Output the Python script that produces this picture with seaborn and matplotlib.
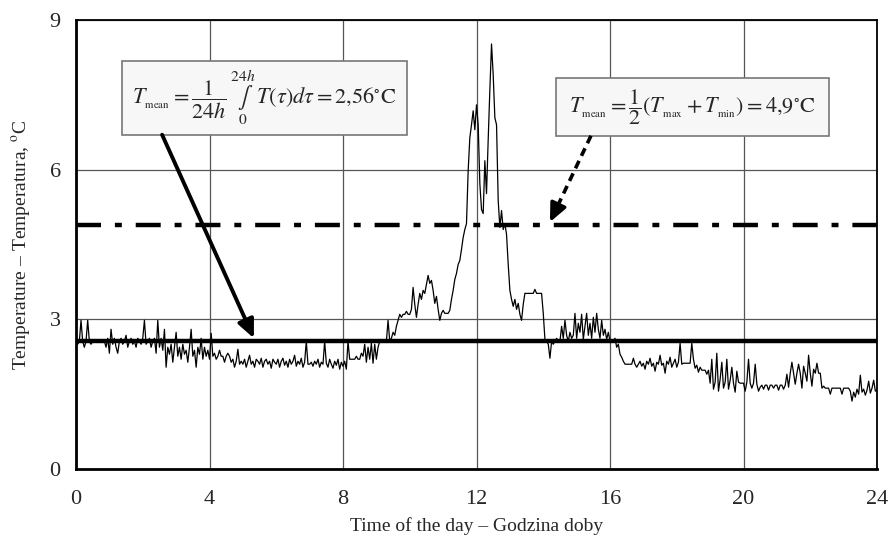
import numpy as np
import pandas as pd
import matplotlib
matplotlib.use('Agg')
import matplotlib.pyplot as plt
import seaborn as sns
from matplotlib.patches import Rectangle

# temperature readings every 3 minutes (0.05 h), one row per hour
temps = [
    2.56, 2.50, 2.56, 2.98, 2.56, 2.44, 2.56, 2.98, 2.56, 2.50, 2.56, 2.56, 2.56, 2.56, 2.56, 2.56, 2.56, 2.56, 2.44, 2.62,
    2.32, 2.80, 2.50, 2.62, 2.44, 2.32, 2.56, 2.62, 2.50, 2.56, 2.68, 2.44, 2.56, 2.62, 2.50, 2.56, 2.44, 2.62, 2.56, 2.50,
    2.62, 2.98, 2.50, 2.56, 2.62, 2.44, 2.56, 2.62, 2.32, 2.98, 2.44, 2.62, 2.38, 2.80, 2.04, 2.44, 2.30, 2.50, 2.14, 2.44,
    2.74, 2.26, 2.44, 2.20, 2.50, 2.30, 2.38, 2.14, 2.44, 2.80, 2.26, 2.38, 2.04, 2.44, 2.30, 2.62, 2.20, 2.44, 2.26, 2.38,
    2.20, 2.72, 2.26, 2.32, 2.20, 2.26, 2.38, 2.26, 2.26, 2.14, 2.26, 2.32, 2.26, 2.14, 2.20, 2.04, 2.16, 2.40, 2.10, 2.16,
    2.10, 2.20, 2.04, 2.16, 2.28, 2.10, 2.16, 2.04, 2.20, 2.16, 2.10, 2.22, 2.04, 2.16, 2.20, 2.10, 2.16, 2.02, 2.20, 2.14,
    2.10, 2.20, 2.04, 2.16, 2.22, 2.08, 2.16, 2.04, 2.20, 2.10, 2.16, 2.28, 2.06, 2.16, 2.10, 2.22, 2.04, 2.14, 2.56, 2.10,
    2.10, 2.14, 2.06, 2.16, 2.10, 2.20, 2.04, 2.14, 2.10, 2.56, 2.12, 2.04, 2.20, 2.10, 2.02, 2.16, 2.08, 2.20, 2.00, 2.14,
    2.06, 2.16, 2.00, 2.56, 2.20, 2.20, 2.20, 2.20, 2.26, 2.20, 2.20, 2.32, 2.26, 2.50, 2.14, 2.44, 2.20, 2.52, 2.12, 2.50,
    2.20, 2.44, 2.56, 2.56, 2.56, 2.56, 2.56, 2.98, 2.56, 2.62, 2.74, 2.68, 2.86, 2.98, 3.10, 3.04, 3.10, 3.10, 3.16, 3.10,
    3.10, 3.20, 3.64, 3.30, 3.04, 3.30, 3.52, 3.40, 3.58, 3.52, 3.70, 3.88, 3.72, 3.78, 3.58, 3.32, 3.46, 3.20, 2.98, 3.12,
    3.18, 3.12, 3.12, 3.12, 3.18, 3.40, 3.58, 3.80, 3.92, 4.10, 4.18, 4.40, 4.64, 4.80, 4.92, 5.98, 6.64, 6.90, 7.18, 6.80,
    7.30, 6.90, 5.72, 5.20, 5.12, 6.18, 5.52, 6.60, 7.60, 8.52, 7.90, 7.04, 6.90, 5.38, 4.84, 5.18, 4.80, 4.92, 4.70, 4.10,
    3.58, 3.40, 3.26, 3.40, 3.20, 3.32, 3.10, 2.98, 3.30, 3.52, 3.52, 3.52, 3.52, 3.52, 3.52, 3.60, 3.52, 3.52, 3.52, 3.52,
    3.12, 2.60, 2.56, 2.50, 2.22, 2.56, 2.50, 2.56, 2.62, 2.56, 2.56, 2.86, 2.62, 2.98, 2.68, 2.56, 2.74, 2.62, 2.68, 3.12,
    2.62, 2.92, 2.74, 3.10, 2.60, 2.86, 3.12, 2.68, 2.92, 2.62, 3.04, 2.74, 3.12, 2.80, 2.62, 2.98, 2.68, 2.80, 2.60, 2.74,
    2.56, 2.56, 2.56, 2.62, 2.44, 2.50, 2.30, 2.24, 2.16, 2.10, 2.10, 2.10, 2.10, 2.10, 2.22, 2.10, 2.04, 2.10, 2.16, 2.06,
    2.12, 2.00, 2.16, 2.10, 2.22, 2.06, 2.12, 1.96, 2.14, 2.10, 2.28, 2.08, 2.12, 1.92, 2.16, 2.10, 2.24, 2.04, 2.12, 2.20,
    2.04, 2.14, 2.52, 2.10, 2.12, 2.12, 2.12, 2.12, 2.12, 2.52, 2.20, 2.02, 2.08, 1.94, 2.04, 1.98, 1.98, 1.98, 1.90, 1.98,
    1.72, 2.20, 1.60, 1.74, 2.32, 1.56, 1.80, 2.14, 1.62, 1.74, 2.20, 1.60, 1.78, 2.04, 1.72, 1.54, 1.96, 1.74, 1.72, 1.72,
    1.72, 1.56, 1.74, 2.20, 1.72, 1.62, 1.72, 2.10, 1.70, 1.56, 1.64, 1.68, 1.60, 1.68, 1.68, 1.58, 1.68, 1.68, 1.62, 1.68,
    1.68, 1.58, 1.68, 1.68, 1.60, 1.68, 1.90, 1.64, 1.92, 2.14, 1.92, 1.70, 1.92, 2.10, 1.92, 1.62, 2.06, 1.92, 1.76, 2.28,
    1.92, 1.66, 2.00, 1.92, 2.12, 1.92, 1.92, 1.62, 1.66, 1.62, 1.62, 1.62, 1.50, 1.62, 1.62, 1.62, 1.62, 1.62, 1.62, 1.50,
    1.62, 1.62, 1.62, 1.62, 1.56, 1.36, 1.54, 1.44, 1.60, 1.50, 1.88, 1.54, 1.60, 1.48, 1.58, 1.76, 1.52, 1.62, 1.78, 1.56,
    1.58,
]
step_h = 0.05
t_mean_integral = 2.56
t_mean_minmax = 4.9

x_ticks = [0, 4, 8, 12, 16, 20, 24]
y_ticks = [0, 3, 6, 9]

df = pd.DataFrame({'hour': np.arange(len(temps)) * step_h, 'temp': temps})

sns.set_style('white')
plt.rcParams['font.family'] = ['Liberation Serif', 'DejaVu Serif']
plt.rcParams['mathtext.fontset'] = 'stix'
plt.rcParams['lines.scale_dashes'] = False

fig = plt.figure(figsize=(8.91, 5.38), dpi=100)
ax = fig.add_axes([0.0853, 0.1283, 0.899, 0.8345])

sns.lineplot(data=df, x='hour', y='temp', color='black', lw=0.9, ax=ax, zorder=3)

# the two mean levels
ax.axhline(t_mean_integral, color='black', lw=3.2, zorder=4)
ax.axhline(t_mean_minmax, color='black', lw=3.2, zorder=4, dashes=(18, 10, 5, 10))

ax.set_xlim(0, 24)
ax.set_ylim(0, 9)
ax.set_xticks(x_ticks)
ax.set_yticks(y_ticks)
ax.grid(True, color='#555555', lw=0.9, zorder=0)
ax.set_axisbelow(True)
for s in ax.spines.values():
    s.set_color('black')
    s.set_linewidth(1.3)
ax.spines['left'].set_linewidth(2)
ax.spines['bottom'].set_linewidth(2)
ax.tick_params(direction='out', length=5, width=1.2, color='black', labelsize=16, pad=6)
ax.tick_params(axis='x', pad=10)

ax.set_xlabel('Time of the day – Godzina doby', fontsize=14, labelpad=6)
ax.set_ylabel(r'Temperature – Temperatura, $^{\mathrm{o}}$C', fontsize=14, labelpad=12)

# formula boxes
ax.add_patch(Rectangle((1.38, 6.70), 8.54, 1.48, facecolor='#f7f7f7', edgecolor='#777777', lw=1.2, zorder=5))
ax.text(5.65, 7.44,
        r'$T_{_{\mathrm{mean}}} = \dfrac{1}{24h}\,\underset{0}{\overset{24h}{\int}}\, T(\tau)d\tau = 2{,}56^{\circ}\mathrm{C}$',
        ha='center', va='center', fontsize=16, zorder=6)
ax.add_patch(Rectangle((14.38, 6.68), 8.18, 1.16, facecolor='#f7f7f7', edgecolor='#777777', lw=1.2, zorder=5))
ax.text(18.47, 7.26,
        r'$T_{_{\mathrm{mean}}} = \dfrac{1}{2}(T_{_{\mathrm{max}}} + T_{_{\mathrm{min}}}) = 4{,}9^{\circ}\mathrm{C}$',
        ha='center', va='center', fontsize=16, zorder=6)

# arrows from the boxes to the lines
ax.annotate('', xy=(5.33, 2.62), xytext=(2.58, 6.70),
            arrowprops=dict(arrowstyle='-|>,head_length=1.1,head_width=0.5', color='black', lw=2.8,
                            shrinkA=0, shrinkB=0), zorder=6)
ax.plot([15.43, 14.45], [6.68, 5.3], color='black', lw=2.6, dashes=(6, 4), zorder=6)
ax.annotate('', xy=(14.2, 4.95), xytext=(14.45, 5.3),
            arrowprops=dict(arrowstyle='-|>,head_length=1.1,head_width=0.5', color='black', lw=2.6,
                            shrinkA=0, shrinkB=0), zorder=6)

plt.savefig('out.png', dpi=100)
